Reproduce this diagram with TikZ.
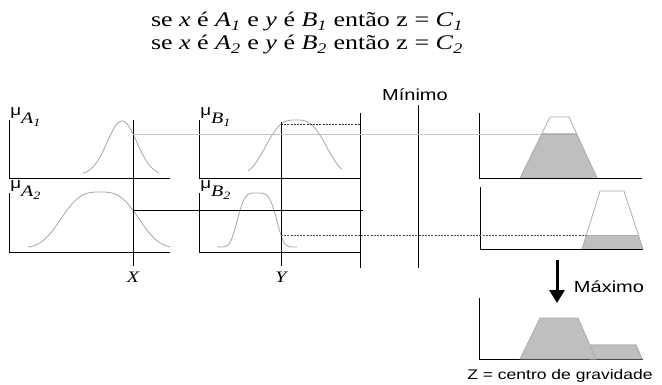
\documentclass[tikz,border=0pt]{standalone}
\usepackage{fontspec}
\setmainfont{Liberation Serif}
\setsansfont{Liberation Sans}
\usetikzlibrary{arrows.meta,intersections}

\tikzset{
  eixo/.style={line width=0.8pt},
  curva/.style={gray!70,line width=0.8pt},
  trap/.style={gray!65,line width=0.8pt},
  area/.style={fill=gray!50},
  rotulo/.style={font=\fontsize{16}{16}\selectfont\sffamily},
  declare function={sino(\t,\c,\s,\p)=exp(-abs((\t-\c)/\s)^\p);}
}
\newcommand{\largo}[1]{\scalebox{1.25}[1]{#1}}
\newcommand{\mulbl}[2]{\largo{{\fontsize{15}{15}\selectfont\sffamily μ}\raisebox{-8pt}{\fontsize{16}{16}\selectfont\textit{#1}\textsubscript{\textit{#2}}}}}
\newcommand{\regra}[1]{\largo{se \textit{x} é \textit{A}\textsubscript{\textit{#1}} e \textit{y} é \textit{B}\textsubscript{\textit{#1}} então z = \textit{C}\textsubscript{\textit{#1}}}}

\begin{document}
\begin{tikzpicture}[x=1pt,y=-1pt,line width=0.8pt]
  \useasboundingbox (0,0) rectangle (662,385);
  % regras
  \node[font=\fontsize{20.8}{23}\selectfont] (r1) at (307,22) {\regra{1}};
  \node[font=\fontsize{20.8}{23}\selectfont] (r2) at (307,45) {\regra{2}};

  % antecedentes A
  \draw[eixo] (9,120) |- (170,178);
  \draw[eixo] (9,193) |- (170,252);
  \draw[curva,name path=a1] plot[domain=83:159,samples=70,smooth] (\x,{175-54*exp(-((\x-122)/21)^2)});
  \draw[curva,name path=a2] plot[domain=28:170,samples=90,smooth] (\x,{248-56*sino(\x,100,45,3)});
  \node[anchor=base west,inner sep=0] (muA1) at (10,116) {\mulbl{A}{1}};
  \node[anchor=base west,inner sep=0] (muA2) at (10,189) {\mulbl{A}{2}};

  % antecedentes B
  \draw[eixo] (199,120) |- (360,178);
  \draw[eixo] (199,193) |- (360,252);
  \draw[curva,name path=b1] plot[domain=248:342,samples=80,smooth] (\x,{175-55*sino(\x,296,35,3)});
  \draw[curva,name path=b2] plot[domain=217:297,samples=80,smooth] (\x,{247-54*sino(\x,257,21.6,4)});
  \node[anchor=base west,inner sep=0] (muB1) at (200,116) {\mulbl{B}{1}};
  \node[anchor=base west,inner sep=0] (muB2) at (200,189) {\mulbl{B}{2}};
  \draw[eixo] (360,113) -- (360,268);

  % entradas X e Y
  \draw[eixo,name path=lx] (133,120) -- (133,266);
  \draw[eixo,name path=ly] (281,122) -- (281,266);
  \node[font=\fontsize{16}{16}\selectfont\itshape] (X) at (133,277) {\largo{X}};
  \node[font=\fontsize{16}{16}\selectfont\itshape] (Y) at (281,277) {\largo{Y}};
  \path[name intersections={of=lx and a1,by=pA1}];
  \path[name intersections={of=lx and a2,by=pA2}];
  \path[name intersections={of=ly and b1,by=pB1}];
  \path[name intersections={of=ly and b2,by=pB2}];
  \coordinate (dirB) at (360,0);
  \coordinate (fimA2) at (363,0);

  % minimo
  \node[rotulo] (min) at (415,95) {\largo{Mínimo}};
  \draw[eixo] (418,105) -- (418,268);

  % consequentes C
  \draw[eixo] (479,113) |- (642,178);
  \draw[eixo] (480,187) |- (643,249);
  \path[name path=c1] (520,178) -- (550,117) -- (569,117) -- (597,178);
  \path[name path=c2] (582,249) -- (600,191) -- (624,191) -- (643,249);
  \path[name path=h1] (pA1) -- ++(500,0);
  \path[name path=h2] (pB2) -- ++(500,0);
  \path[name intersections={of=h1 and c1,by={qA1,rA1}}];
  \path[name intersections={of=h2 and c2,by={qB2,rB2}}];
  \begin{scope}
    \clip (470,0 |- qA1) rectangle (662,178);
    \fill[area] (520,178) -- (550,117) -- (569,117) -- (597,178) -- cycle;
  \end{scope}
  \begin{scope}
    \clip (470,0 |- qB2) rectangle (662,249);
    \fill[area] (582,249) -- (600,191) -- (624,191) -- (643,249) -- cycle;
  \end{scope}
  \draw[trap] (520,178) -- (550,117) -- (569,117) -- (597,178);
  \draw[trap] (582,249) -- (600,191) -- (624,191) -- (643,249);
  \draw[trap] (qA1) -- (rA1);
  \draw[trap] (qB2) -- (rB2);

  % ligacoes
  \draw[gray!45,line width=0.6pt] (pA1) -- (qA1);
  \draw[eixo] (pA2) -- (pA2 -| fimA2);
  \draw[black!80,dash pattern=on 2pt off 1.2pt] (pB1) -- (pB1 -| dirB);
  \draw[black!70,dash pattern=on 2pt off 1.2pt] (pB2) -- (qB2);

  % maximo
  \draw[-{Triangle[length=13pt,width=15pt]},line width=3pt] (557,260) -- (557,303);
  \node[rotulo] (max) at (609,287) {\largo{Máximo}};
  \draw[eixo] (479,298) |- (643,359);
  \draw[trap,area] (590,359) -- (590,345) -- (636,345) -- (642,359) -- cycle;
  \draw[trap,area] (520,359) -- (540,318) -- (578,318) -- (596,359) -- cycle;
  \draw[trap] (590,345) -- (636,345) -- (642,359);
  \node[font=\fontsize{14}{14}\selectfont\sffamily] (cg) at (560,376) {\largo{Z = centro de gravidade}};
\end{tikzpicture}
\end{document}
